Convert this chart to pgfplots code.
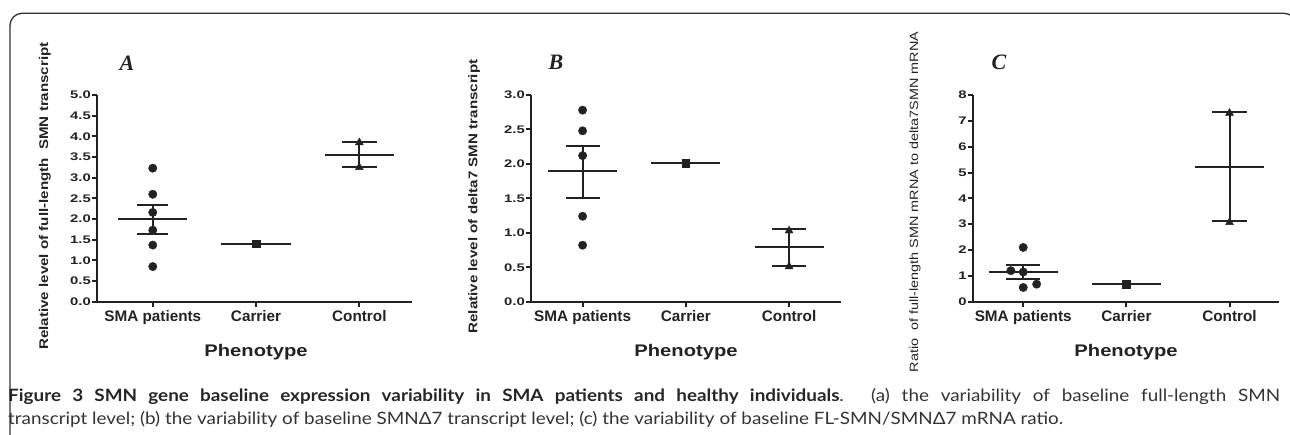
\documentclass[border=0pt]{standalone}
\usepackage{fontspec}
\usepackage{pgfplots}
\pgfplotsset{compat=1.18}
\setmainfont{Liberation Sans}
\newfontfamily\tickfont{Liberation Sans}[FakeStretch=1.35]
\newfontfamily\labfont{Liberation Sans}[FakeStretch=1.2]
\newfontfamily\letterfont{Liberation Serif}
\newfontfamily\capfont{Lato}[FakeStretch=1.11]
\definecolor{ink}{HTML}{222222}
\definecolor{capink}{HTML}{333333}

\pgfplotsset{gp/.style={
  scale only axis, clip=false,
  axis x line*=bottom, axis y line*=left,
  axis line style={ink, line width=2pt},
  tick style={ink, line width=2pt},
  tick align=outside, major tick length=5pt,
  xtick={0,1,2}, xticklabels={SMA patients,Carrier,Control},
  xticklabel style={font={\fontsize{15.3}{16}\selectfont\bfseries}, text=ink},
  yticklabel style={font={\fontsize{11}{12}\selectfont\tickfont\bfseries}, text=ink, inner sep=1pt},
  /pgf/number format/assume math mode=true,
  ymin=0, height=206.7pt, anchor=south west,
  unbounded coords=jump,
},
pts/.style={only marks, ink, mark options={fill=ink, draw=ink}},
bars/.style={ink, line width=2pt, mark=none},
}

\begin{document}
\begin{tikzpicture}
\useasboundingbox (0pt,0pt) rectangle (1290pt,434pt);
\begin{scope}
\clip (0pt,0pt) rectangle (1290pt,434pt);
\draw[capink, line width=1.3pt, rounded corners=12pt] (10pt,-10pt) -- (10pt,420.7pt) -- (1296pt,420.7pt) -- (1296pt,-10pt);
\end{scope}

% Panel A
\begin{axis}[gp, at={(97pt,132.3pt)}, width=315pt, xmin=-0.54, xmax=2.51, ymax=5,
  ytick={0,0.5,...,5}, yticklabel style={/pgf/number format/.cd, fixed, fixed zerofill, precision=1}]
\addplot[pts, mark=*, mark size=4.2pt] coordinates {(0,3.23) (0,2.60) (0,2.16) (0,1.73) (0,1.37) (0,0.85)};
\addplot[bars] coordinates {(-0.335,1.99) (0.335,1.99) (nan,nan) (0,1.64) (0,2.35) (nan,nan) (-0.15,2.35) (0.15,2.35) (nan,nan) (-0.15,1.64) (0.15,1.64)};
\addplot[pts, mark=square*, mark size=3.7pt] coordinates {(1,1.40)};
\addplot[bars] coordinates {(0.665,1.40) (1.335,1.40)};
\addplot[pts, mark=triangle*, mark size=4.6pt] coordinates {(2,3.85) (2,3.25)};
\addplot[bars] coordinates {(1.665,3.56) (2.335,3.56) (nan,nan) (2,3.25) (2,3.87) (nan,nan) (1.83,3.87) (2.17,3.87) (nan,nan) (1.83,3.25) (2.17,3.25)};
\end{axis}

% Panel B
\begin{axis}[gp, at={(531pt,132.3pt)}, width=309.7pt, xmin=-0.50, xmax=2.50, ymax=3,
  ytick={0,0.5,...,3}, yticklabel style={/pgf/number format/.cd, fixed, fixed zerofill, precision=1}]
\addplot[pts, mark=*, mark size=4.2pt] coordinates {(0,2.78) (0,2.48) (0,2.12) (0,1.24) (0,0.82)};
\addplot[bars] coordinates {(-0.335,1.89) (0.335,1.89) (nan,nan) (0,1.51) (0,2.26) (nan,nan) (-0.165,2.26) (0.165,2.26) (nan,nan) (-0.165,1.51) (0.165,1.51)};
\addplot[pts, mark=square*, mark size=3.7pt] coordinates {(1,2.01)};
\addplot[bars] coordinates {(0.665,2.01) (1.335,2.01)};
\addplot[pts, mark=triangle*, mark size=4.6pt] coordinates {(2,1.03) (2,0.51)};
\addplot[bars] coordinates {(1.665,0.79) (2.335,0.79) (nan,nan) (2,0.52) (2,1.05) (nan,nan) (1.835,1.05) (2.165,1.05) (nan,nan) (1.835,0.52) (2.165,0.52)};
\end{axis}

% Panel C
\begin{axis}[gp, at={(972.7pt,132.3pt)}, width=306.3pt, xmin=-0.49, xmax=2.48, ymax=8,
  ytick={0,1,...,8}]
\addplot[pts, mark=*, mark size=4.2pt] coordinates {(0,2.10) (-0.12,1.20) (0,1.15) (0,0.55) (0.13,0.68)};
\addplot[bars] coordinates {(-0.335,1.135) (0.335,1.135) (nan,nan) (0,0.88) (0,1.42) (nan,nan) (-0.165,1.42) (0.165,1.42) (nan,nan) (-0.165,0.88) (0.165,0.88)};
\addplot[pts, mark=square*, mark size=3.7pt] coordinates {(1,0.68)};
\addplot[bars] coordinates {(0.665,0.68) (1.335,0.68)};
\addplot[pts, mark=triangle*, mark size=4.6pt] coordinates {(2,7.30) (2,3.07)};
\addplot[bars] coordinates {(1.665,5.23) (2.335,5.23) (nan,nan) (2,3.12) (2,7.35) (nan,nan) (1.83,7.35) (2.17,7.35) (nan,nan) (1.83,3.12) (2.17,3.12)};
\end{axis}

% axis titles
\node[rotate=90, text=ink, font={\fontsize{12.6}{14}\selectfont\labfont\bfseries}] at (45pt,238pt) {Relative level of full-length\ \ SMN transcript};
\node[rotate=90, text=ink, font={\fontsize{12.6}{14}\selectfont\labfont\bfseries}] at (474pt,237.5pt) {Relative level of delta7 SMN transcript};
\node[rotate=90, text=ink, font={\fontsize{12}{14}\selectfont\labfont}] at (915pt,232pt) {Ratio\ \ of full-length SMN mRNA to delta7SMN mRNA};
\foreach \px in {256,686,1126}
  \node[anchor=base, text=ink, inner sep=0pt, font={\fontsize{16.8}{18}\selectfont\labfont\bfseries}] at (\px pt,78pt) {Phenotype};
\node[text=ink, font={\fontsize{22}{24}\selectfont\letterfont\bfseries\itshape}] at (127pt,371pt) {A};
\node[text=ink, font={\fontsize{22}{24}\selectfont\letterfont\bfseries\itshape}] at (556pt,372pt) {B};
\node[text=ink, font={\fontsize{22}{24}\selectfont\letterfont\bfseries\itshape}] at (999pt,372pt) {C};

% caption
\node[anchor=base west, inner sep=0pt, text width=1272pt, align=justify, text=capink,
  font={\fontsize{17}{22.3}\selectfont\capfont}] at (8pt,32.3pt)
  {\textbf{\color{black!85}Figure 3 SMN gene baseline expression variability in SMA patients and healthy individuals}. (a) the variability of baseline full-length SMN\linebreak transcript level; (b) the variability of baseline SMNΔ7 transcript level; (c) the variability of baseline FL-SMN/SMNΔ7 mRNA ratio.};
\end{tikzpicture}
\end{document}
